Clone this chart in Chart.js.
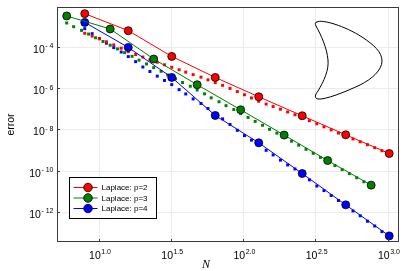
<!DOCTYPE html>
<html lang="en">
<head>
  <meta charset="utf-8">
  <title>Laplace error vs N</title>
  <style>
    html, body { margin: 0; padding: 0; background: #fff; }
  </style>
</head>
<body>
  <canvas id="errChart" width="407" height="271"></canvas>

  <script src="https://cdn.jsdelivr.net/npm/chart.js@4.4.0/dist/chart.umd.min.js"></script>
  <script>
    // measured error, solid lines with markers
    const nP2 = [8, 16, 32, 64, 128, 256, 512, 1024];
    const errP2 = [4.14e-3, 6.18e-4, 3.50e-5, 3.34e-6, 3.86e-7, 4.62e-8, 5.53e-9, 6.84e-10];
    const nP3 = [6, 12, 24, 48, 96, 192, 384, 768];
    const errP3 = [3.20e-3, 7.48e-4, 2.61e-5, 1.48e-6, 9.04e-8, 5.35e-9, 3.13e-10, 2.00e-11];
    const nP4 = [8, 16, 32, 64, 128, 256, 512, 1024];
    const errP4 = [1.56e-3, 9.57e-5, 3.34e-6, 4.79e-8, 2.26e-9, 7.31e-11, 2.21e-12, 6.92e-14];

    // dotted series (no line)
    const nDense = [8, 9, 10.1, 11.3, 12.7, 14.3, 16, 18, 20.2, 22.6, 25.4, 28.5, 32, 36, 40, 45, 51, 57, 64, 72, 81, 91,
      102, 114, 128, 144, 161, 181, 203, 228, 256, 287, 323, 362, 406, 456, 512, 575, 645, 724, 813, 912, 1024];
    const nDense3 = [6, 6.7, 7.6, 8.5, 9.5, 10.7, 12, 13.5, 15.1, 17, 19, 21.4, 24, 27, 30, 34, 38, 43, 48, 54, 60, 68,
      76, 86, 96, 108, 121, 136, 152, 171, 192, 216, 242, 272, 305, 342, 384, 431, 484, 543, 610, 684, 768];
    const estP2 = [4.62e-4, 3.38e-4, 2.50e-4, 1.79e-4, 1.26e-4, 8.75e-5, 5.92e-5, 4.33e-5, 3.27e-5, 2.37e-5, 1.83e-5,
      1.37e-5, 1.04e-5, 7.91e-6, 6.05e-6, 4.57e-6, 3.46e-6, 2.56e-6, 1.87e-6, 1.38e-6, 9.77e-7, 6.84e-7, 4.83e-7,
      3.38e-7, 2.34e-7, 1.71e-7, 1.29e-7, 9.66e-8, 7.08e-8, 5.18e-8, 3.74e-8, 2.67e-8, 1.89e-8, 1.35e-8, 9.57e-9,
      6.68e-9, 4.73e-9, 3.46e-9, 2.53e-9, 1.83e-9, 1.31e-9, 9.35e-10, 6.47e-10];
    const estP3 = [1.46e-3, 9.66e-4, 6.40e-4, 4.23e-4, 2.80e-4, 1.85e-4, 1.22e-4, 8.09e-5, 5.35e-5, 3.54e-5, 2.31e-5,
      1.51e-5, 1.00e-5, 6.61e-6, 4.38e-6, 2.89e-6, 1.89e-6, 1.25e-6, 8.26e-7, 5.35e-7, 3.42e-7, 2.21e-7, 1.43e-7,
      9.25e-8, 5.92e-8, 3.83e-8, 2.47e-8, 1.60e-8, 1.02e-8, 6.61e-9, 4.28e-9, 2.70e-9, 1.73e-9, 1.09e-9, 7.00e-10,
      4.43e-10, 2.80e-10, 1.79e-10, 1.13e-10, 7.23e-11, 4.57e-11, 2.92e-11, 1.85e-11];
    const estP4 = [7.73e-4, 4.43e-4, 2.56e-4, 1.53e-4, 9.35e-5, 5.71e-5, 3.42e-5, 1.95e-5, 1.07e-5, 6.47e-6, 3.86e-6,
      2.39e-6, 1.50e-6, 8.55e-7, 5.28e-7, 3.03e-7, 1.83e-7, 1.04e-7, 5.92e-8, 3.27e-8, 1.75e-8, 9.14e-9, 5.06e-9,
      3.05e-9, 1.79e-9, 9.77e-10, 5.85e-10, 3.27e-10, 1.91e-10, 1.22e-10, 6.61e-11, 3.61e-11, 1.81e-11, 1.09e-11,
      6.32e-12, 3.61e-12, 1.95e-12, 1.12e-12, 6.55e-13, 3.57e-13, 2.09e-13, 1.12e-13, 6.68e-14];

    const seriesNames = ['Laplace: p=2', 'Laplace: p=3', 'Laplace: p=4'];
    const seriesColors = ['#ff0000', '#008000', '#0000ff'];

    const xTicks = [10, 31.6228, 100, 316.228, 1000];
    const xTickExp = ['1.0', '1.5', '2.0', '2.5', '3.0'];
    const yTicks = [1e-4, 1e-6, 1e-8, 1e-10, 1e-12];
    const yTickExp = ['-4', '-6', '-8', '-10', '-12'];

    const FONT = '"Liberation Sans", Arial, sans-serif';

    function pts(xs, ys) {
      return xs.map((x, i) => ({ x: x, y: ys[i] }));
    }

    function solid(i, xs, ys) {
      return {
        label: seriesNames[i], data: pts(xs, ys), showLine: true,
        borderColor: seriesColors[i], borderWidth: 1,
        pointRadius: 4, pointBackgroundColor: seriesColors[i],
        pointBorderColor: '#000', pointBorderWidth: 0.8, order: 0
      };
    }

    function dotted(i, xs, ys) {
      return {
        label: seriesNames[i] + ' est', data: pts(xs, ys), showLine: false,
        pointStyle: 'rect', pointRadius: 2.1, pointBorderWidth: 0,
        pointBackgroundColor: seriesColors[i], order: 1
      };
    }

    // draw "10" with a small exponent next to it
    function powLabel(ctx, exp, x, y, align) {
      ctx.font = '10.5px ' + FONT;
      const wb = ctx.measureText('10').width;
      ctx.font = '7px ' + FONT;
      const neg = exp[0] === '-';
      const digits = neg ? exp.slice(1) : exp;
      const wm = neg ? ctx.measureText('-').width + 2 : 0;
      const we = wm + ctx.measureText(digits).width;
      const left = align === 'center' ? x - (wb + we) / 2 : x - wb - we;
      ctx.fillStyle = '#000';
      ctx.textBaseline = 'alphabetic';
      ctx.textAlign = 'left';
      ctx.font = '10.5px ' + FONT;
      ctx.fillText('10', left, y);
      ctx.font = '7px ' + FONT;
      if (neg) ctx.fillText('-', left + wb + 0.5, y - 4.5);
      ctx.fillText(digits, left + wb + 0.5 + wm, y - 4.5);
    }

    const decor = {
      id: 'decor',
      beforeDatasetsDraw(chart) {
        const { ctx, chartArea: a, scales: { x, y } } = chart;
        ctx.save();
        ctx.strokeStyle = '#ebebeb';
        ctx.lineWidth = 1;
        ctx.beginPath();
        xTicks.forEach(v => {
          const px = Math.round(x.getPixelForValue(v)) + 0.5;
          ctx.moveTo(px, a.top); ctx.lineTo(px, a.bottom);
        });
        yTicks.forEach(v => {
          const py = Math.round(y.getPixelForValue(v)) + 0.5;
          ctx.moveTo(a.left, py); ctx.lineTo(a.right, py);
        });
        ctx.stroke();
        ctx.restore();
      },
      afterDraw(chart) {
        const { ctx, chartArea: a, scales: { x, y } } = chart;
        ctx.save();

        // frame and inward ticks
        ctx.strokeStyle = '#3a3a3a';
        ctx.lineWidth = 1;
        ctx.strokeRect(a.left + 0.5, a.top + 0.5, a.width - 1, a.height - 1);
        ctx.beginPath();
        xTicks.forEach(v => {
          const px = Math.round(x.getPixelForValue(v)) + 0.5;
          ctx.moveTo(px, a.bottom); ctx.lineTo(px, a.bottom - 3);
        });
        yTicks.forEach(v => {
          const py = Math.round(y.getPixelForValue(v)) + 0.5;
          ctx.moveTo(a.left, py); ctx.lineTo(a.left + 3, py);
        });
        ctx.stroke();

        // tick labels
        xTicks.forEach((v, i) => powLabel(ctx, xTickExp[i], x.getPixelForValue(v) + 1, a.bottom + 16.5, 'center'));
        yTicks.forEach((v, i) => powLabel(ctx, yTickExp[i], a.left - 4, y.getPixelForValue(v) + 6, 'right'));

        // axis titles
        ctx.fillStyle = '#000';
        ctx.textAlign = 'center';
        ctx.textBaseline = 'middle';
        ctx.font = 'italic 12px "Liberation Serif", "DejaVu Serif", serif';
        ctx.fillText('N', 206, 265);
        ctx.save();
        ctx.translate(11, (a.top + a.bottom) / 2);
        ctx.rotate(-Math.PI / 2);
        ctx.font = '10.5px ' + FONT;
        ctx.fillText('error', 0, 0);
        ctx.restore();

        // legend box
        const lx = a.left + 12.5, ly = 177.5;
        ctx.fillStyle = '#fff';
        ctx.fillRect(lx, ly, 87, 41);
        ctx.strokeStyle = '#000';
        ctx.strokeRect(lx, ly, 87, 41);
        ctx.font = '8px ' + FONT;
        ctx.textAlign = 'left';
        seriesNames.forEach((name, i) => {
          const ry = ly + 10 + i * 10.5;
          ctx.strokeStyle = seriesColors[i];
          ctx.lineWidth = 1;
          ctx.beginPath();
          ctx.moveTo(lx + 4, ry); ctx.lineTo(lx + 28, ry);
          ctx.stroke();
          ctx.beginPath();
          ctx.arc(lx + 18.5, ry, 4.3, 0, Math.PI * 2);
          ctx.fillStyle = seriesColors[i];
          ctx.fill();
          ctx.strokeStyle = '#000';
          ctx.lineWidth = 0.8;
          ctx.stroke();
          ctx.fillStyle = '#000';
          ctx.fillText(name, lx + 32, ry + 0.5);
        });

        // inset: boundary of the domain
        ctx.strokeStyle = '#000';
        ctx.lineWidth = 1;
        ctx.beginPath();
        ctx.moveTo(317, 22);
        ctx.bezierCurveTo(322, 19, 345, 26, 362, 37);
        ctx.bezierCurveTo(374, 45, 382, 52, 382, 61);
        ctx.bezierCurveTo(382, 70, 372, 79, 360, 85);
        ctx.bezierCurveTo(345, 92, 325, 100, 318, 99);
        ctx.bezierCurveTo(314, 98, 315, 95, 318, 91);
        ctx.bezierCurveTo(324, 81, 329, 70, 328, 60);
        ctx.bezierCurveTo(327, 48, 321, 35, 316, 26);
        ctx.bezierCurveTo(315, 24, 315, 22, 317, 22);
        ctx.stroke();

        ctx.restore();
      }
    };

    new Chart(document.getElementById('errChart'), {
      type: 'scatter',
      data: {
        datasets: [
          solid(0, nP2, errP2),
          solid(1, nP3, errP3),
          solid(2, nP4, errP4),
          dotted(0, nDense, estP2),
          dotted(1, nDense3, estP3),
          dotted(2, nDense, estP4)
        ]
      },
      options: {
        responsive: false,
        animation: false,
        devicePixelRatio: 1,
        layout: { padding: { left: 57, right: 8, top: 7, bottom: 29 } },
        plugins: { legend: { display: false }, tooltip: { enabled: false } },
        scales: {
          x: { type: 'logarithmic', min: 5.14, max: 1197, display: false },
          y: { type: 'logarithmic', min: 3.5e-14, max: 8.7e-3, display: false }
        }
      },
      plugins: [decor]
    });
  </script>
</body>
</html>
